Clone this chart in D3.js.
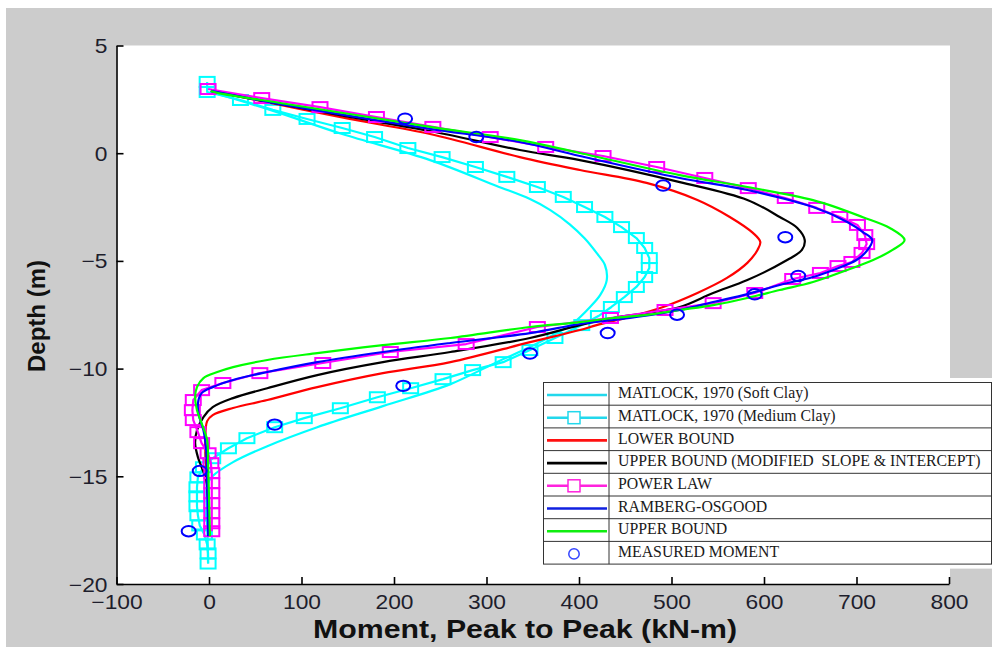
<!DOCTYPE html>
<html>
<head>
<meta charset="utf-8">
<script src="https://cdn.jsdelivr.net/npm/d3@7"></script>
<style>
  html, body { margin: 0; padding: 0; background: #ffffff; }
  svg { display: block; }
  .tick-label { font-family: "Liberation Sans", Arial, sans-serif; font-size: 20px; fill: #1e1e2c; }
  .axis-title { font-family: "Liberation Sans", Arial, sans-serif; font-weight: bold; fill: #111; }
  .legend-text { font-family: "Liberation Serif", "Times New Roman", serif; font-size: 15.8px; fill: #1a1a1a; white-space: pre; }
</style>
</head>
<body>
<svg id="chart" width="992" height="647"></svg>
<script>
// ---- Axis ticks ----
const xTicks = [-100, 0, 100, 200, 300, 400, 500, 600, 700, 800];
const yTicks = [5, 0, -5, -10, -15, -20];

// ---- MATLOCK, 1970 (Soft Clay) ----
const softClayDepth  = [2.84, 2.01, 0.89, -0.32, -1.52, -2.13, -2.64, -3.30, -3.95, -4.63, -5.19, -5.89, -6.58, -7.14, -7.88, -8.35, -9.00, -9.70, -10.72, -11.74, -12.72, -13.60, -14.34, -14.99, -15.41, -16.58, -19.05];
const softClayMoment = [2, 66, 144, 239, 311, 347, 369, 390, 406, 419, 428, 430, 423, 412, 394, 376, 347, 311, 261, 188, 117, 63, 26, 4, -2, -2, -1];

// ---- MATLOCK, 1970 (Medium Clay) ----
const mediumClayDepth  = [3.31, 2.84, 2.47, 2.01, 1.59, 1.17, 0.75, 0.24, -0.18, -0.64, -1.10, -1.57, -2.03, -2.50, -2.96, -3.43, -3.94, -4.40, -4.87, -5.33, -5.75, -6.21, -6.68, -7.14, -7.56, -7.98, -8.58, -9.14, -9.70, -10.07, -10.49, -10.91, -11.33, -11.84, -12.30, -12.72, -13.23, -13.70, -14.16, -14.58, -15.05, -15.51, -15.93, -16.39, -16.81, -17.28, -17.70, -18.16, -18.58, -19.05];
const mediumClayMoment = [-2, -2, 34, 69, 106, 144, 179, 215, 252, 288, 322, 355, 383, 406, 428, 446, 462, 471, 476, 476, 471, 462, 449, 435, 421, 403, 374, 347, 318, 285, 253, 218, 182, 142, 103, 71, 41, 21, 4, -6, -12, -13, -13, -13, -12, -10, -5, -2, -1, -1];

// ---- LOWER BOUND ----
const lowerDepth  = [2.89, 2.24, 1.59, 0.89, -0.18, -0.78, -1.38, -2.17, -2.96, -3.70, -4.12, -4.49, -5.09, -5.79, -6.49, -7.14, -7.60, -7.98, -8.21, -8.77, -9.70, -10.21, -10.86, -11.46, -11.83, -12.16, -12.44, -13.32, -14.71, -16.11, -17.78];
const lowerMoment = [2, 77, 152, 239, 336, 401, 473, 528, 563, 588, 596, 593, 582, 560, 528, 491, 455, 419, 401, 347, 261, 188, 117, 63, 26, 4, -2, -4, -3, -1, 0];

// ---- UPPER BOUND (MODIFIED SLOPE & INTERCEPT) ----
const modifiedDepth  = [2.89, 2.28, 1.68, 1.03, 0.15, -0.32, -1.34, -2.17, -2.96, -3.47, -4.03, -4.49, -4.96, -5.89, -6.49, -7.14, -7.42, -7.65, -7.98, -8.58, -9.23, -9.70, -10.30, -10.91, -11.37, -11.79, -12.25, -12.86, -13.46, -14.11, -14.57, -15.18, -16.11, -17.78];
const modifiedMoment = [2, 77, 152, 239, 336, 401, 509, 582, 617, 636, 644, 641, 625, 582, 545, 509, 473, 437, 401, 347, 261, 188, 117, 63, 26, 4, -6, -13, -15, -12, -8, -3, -1, 0];

// ---- POWER LAW ----
const powerLawDepth  = [2.98, 2.56, 2.14, 1.68, 1.22, 0.75, 0.29, -0.13, -0.64, -1.15, -1.62, -2.08, -2.54, -2.96, -3.33, -3.80, -4.22, -4.63, -5.05, -5.24, -5.56, -5.84, -6.49, -6.96, -7.28, -7.65, -8.07, -8.86, -9.23, -9.74, -10.21, -10.67, -11.00, -11.46, -11.93, -12.39, -12.95, -13.46, -13.93, -14.39, -14.85, -15.32, -15.78, -16.25, -16.71, -17.18, -17.55];
const powerLawMoment = [-1, 57, 120, 181, 242, 304, 364, 426, 484, 536, 583, 623, 657, 682, 701, 709, 711, 706, 695, 680, 661, 631, 590, 545, 493, 434, 355, 278, 196, 123, 55, 15, -8, -17, -18, -17, -12, -8, -1, 2, 3, 3, 3, 3, 3, 3, 3];

// ---- RAMBERG-OSGOOD ----
const rambergDepth  = [2.89, 2.28, 1.73, 1.13, 0.52, -0.13, -1.15, -1.71, -2.50, -3.19, -3.66, -4.03, -4.49, -4.96, -5.42, -5.75, -6.12, -6.54, -6.91, -7.28, -7.65, -7.93, -8.35, -8.81, -9.23, -9.70, -10.16, -10.53, -10.86, -11.14, -11.61, -12.16, -12.86, -13.79, -15.18, -17.78];
const rambergMoment = [2, 77, 152, 239, 336, 401, 509, 582, 653, 690, 707, 717, 712, 700, 675, 653, 617, 582, 545, 509, 455, 401, 347, 261, 188, 117, 63, 26, 4, -8, -12, -11, -6, -3, -2, -1];

// ---- UPPER BOUND ----
const upperDepth  = [2.89, 2.80, 2.33, 1.82, 1.22, 0.61, 0.01, -1.02, -1.57, -2.18, -2.97, -3.47, -4.03, -4.49, -4.96, -5.42, -5.98, -6.35, -6.72, -7.05, -7.28, -7.51, -7.65, -7.84, -8.07, -8.58, -8.91, -9.28, -9.60, -9.93, -10.16, -10.44, -10.86, -11.32, -11.93, -12.53, -13.32, -14.39, -15.97, -17.78];
const upperMoment = [2, 9, 77, 152, 239, 336, 401, 509, 582, 653, 707, 736, 752, 739, 718, 690, 653, 617, 582, 545, 509, 473, 437, 401, 347, 261, 188, 117, 63, 26, 9, -6, -13, -15, -13, -8, -2, -1, 0, 1];

// ---- MEASURED MOMENT ----
const measuredDepth  = [1.6, 0.75, -1.5, -3.9, -5.7, -6.55, -7.5, -8.35, -9.3, -10.8, -12.6, -14.75, -17.55];
const measuredMoment = [212, 289, 491, 623, 637, 590, 506, 431, 347, 210, 71, -10, -22];

// ---- Legend entries ----
const legendLabels = [
  "MATLOCK, 1970 (Soft Clay)",
  "MATLOCK, 1970 (Medium Clay)",
  "LOWER BOUND",
  "UPPER BOUND (MODIFIED  SLOPE & INTERCEPT)",
  "POWER LAW",
  "RAMBERG-OSGOOD",
  "UPPER BOUND",
  "MEASURED MOMENT"
];

const zip = (m, d) => m.map((v, i) => ({ m: v, d: d[i] }));

const series = [
  { key: "soft",     color: "#00ffff", pts: zip(softClayMoment, softClayDepth),     marker: null,     smooth: true },
  { key: "medium",   color: "#00ffff", pts: zip(mediumClayMoment, mediumClayDepth), marker: "square", smooth: false },
  { key: "lower",    color: "#ff0000", pts: zip(lowerMoment, lowerDepth),           marker: null,     smooth: true },
  { key: "modified", color: "#000000", pts: zip(modifiedMoment, modifiedDepth),     marker: null,     smooth: true },
  { key: "power",    color: "#ff00ff", pts: zip(powerLawMoment, powerLawDepth),     marker: "square", smooth: false },
  { key: "ramberg",  color: "#0000ff", pts: zip(rambergMoment, rambergDepth),       marker: null,     smooth: true },
  { key: "upper",    color: "#00ff00", pts: zip(upperMoment, upperDepth),           marker: null,     smooth: true }
];
const measured = zip(measuredMoment, measuredDepth);

const svg = d3.select("#chart");

// figure background
svg.append("rect").attr("x", 6).attr("y", 8).attr("width", 986).attr("height", 639).attr("fill", "#cccccc");

const x = d3.scaleLinear().domain([-100, 800]).range([116.5, 949]);
const y = d3.scaleLinear().domain([-20, 5]).range([584, 45.5]);

// plot area
svg.append("rect")
  .attr("x", x(-100)).attr("y", y(5))
  .attr("width", x(800) - x(-100) + 1).attr("height", y(-20) - y(5))
  .attr("fill", "#ffffff");

// curves
const plot = svg.append("g");
series.forEach(s => {
  const line = d3.line()
    .x(p => x(p.m)).y(p => y(p.d))
    .curve(s.smooth ? d3.curveCatmullRom.alpha(0.5) : d3.curveLinear);
  plot.append("path")
    .datum(s.pts)
    .attr("d", line)
    .attr("fill", "none")
    .attr("stroke", s.color)
    .attr("stroke-width", 2.2)
    .attr("stroke-linejoin", "round");
  if (s.marker === "square") {
    plot.append("g").selectAll("rect")
      .data(s.pts).join("rect")
      .attr("x", p => x(p.m) - 7.5).attr("y", p => y(p.d) - 5)
      .attr("width", 15).attr("height", 10)
      .attr("fill", "none").attr("stroke", s.color).attr("stroke-width", 2);
  }
});

// measured points
plot.append("g").selectAll("ellipse")
  .data(measured).join("ellipse")
  .attr("cx", p => x(p.m)).attr("cy", p => y(p.d))
  .attr("rx", 7).attr("ry", 5.2)
  .attr("fill", "none").attr("stroke", "#0000ff").attr("stroke-width", 2);

// axes
const xAxis = svg.append("g")
  .attr("transform", `translate(0,${y(-20)})`)
  .call(d3.axisBottom(x).tickValues(xTicks).tickFormat(d3.format("d")).tickSizeInner(-7).tickSizeOuter(0));
const yAxis = svg.append("g")
  .attr("transform", `translate(${x(-100)},0)`)
  .call(d3.axisLeft(y).tickValues(yTicks).tickFormat(d3.format("d")).tickSizeInner(-7).tickSizeOuter(0));

[xAxis, yAxis].forEach(g => {
  g.select(".domain").attr("stroke", "#000").attr("stroke-width", 1.6);
  g.selectAll(".tick line").attr("stroke", "#000").attr("stroke-width", 1.6);
  g.selectAll(".tick text").attr("class", "tick-label").attr("font-size", null).attr("font-family", null).attr("fill", null);
});
xAxis.selectAll(".tick text")
  .attr("y", 0).attr("dy", 0)
  .attr("transform", "translate(0,25) scale(1.14,1)")
  .attr("text-anchor", "middle");
yAxis.selectAll(".tick text")
  .attr("x", 0).attr("dy", "0.35em")
  .attr("transform", "translate(-9,0) scale(1.14,1)")
  .attr("text-anchor", "end");
xAxis.attr("font-size", null).attr("font-family", null);
yAxis.attr("font-size", null).attr("font-family", null);

// axis titles
svg.append("text").attr("class", "axis-title")
  .attr("x", 525).attr("y", 638)
  .attr("text-anchor", "middle")
  .attr("font-size", 25)
  .attr("textLength", 424).attr("lengthAdjust", "spacingAndGlyphs")
  .text("Moment, Peak to Peak (kN-m)");

svg.append("text").attr("class", "axis-title")
  .attr("transform", "translate(45,316) rotate(-90)")
  .attr("text-anchor", "middle")
  .attr("font-size", 24)
  .text("Depth (m)");

// legend
const lg = { left: 543.5, right: 991.5, top: 382.5, rowH: 22.7, divider: 609 };
const lgBottom = lg.top + lg.rowH * legendLabels.length;
svg.append("rect").attr("x", lg.left).attr("y", lg.top - 4.5)
  .attr("width", 992 - lg.left).attr("height", lgBottom - lg.top + 9).attr("fill", "#ffffff");
const legend = svg.append("g");
legend.append("rect")
  .attr("x", lg.left).attr("y", lg.top)
  .attr("width", lg.right - lg.left).attr("height", lgBottom - lg.top)
  .attr("fill", "none").attr("stroke", "#333").attr("stroke-width", 1);
legend.append("line")
  .attr("x1", lg.divider).attr("x2", lg.divider).attr("y1", lg.top).attr("y2", lgBottom)
  .attr("stroke", "#333").attr("stroke-width", 1);

const legendStyles = [
  { color: "#22d8ec", line: true,  marker: null },
  { color: "#22d8ec", line: true,  marker: "square" },
  { color: "#ff1010", line: true,  marker: null },
  { color: "#000000", line: true,  marker: null },
  { color: "#ff22dd", line: true,  marker: "square" },
  { color: "#1020e0", line: true,  marker: null },
  { color: "#10ee10", line: true,  marker: null },
  { color: "#3344ff", line: false, marker: "circle" }
];

legendLabels.forEach((label, i) => {
  const top = lg.top + i * lg.rowH;
  if (i > 0) {
    legend.append("line")
      .attr("x1", lg.left).attr("x2", lg.right).attr("y1", top).attr("y2", top)
      .attr("stroke", "#333").attr("stroke-width", 1);
  }
  const st = legendStyles[i];
  const cy = top + 12.5;
  if (st.line) {
    legend.append("line")
      .attr("x1", 547).attr("x2", 607).attr("y1", cy).attr("y2", cy)
      .attr("stroke", st.color).attr("stroke-width", 2.6);
  }
  if (st.marker === "square") {
    legend.append("rect")
      .attr("x", 568).attr("y", cy - 6).attr("width", 12).attr("height", 12)
      .attr("fill", "#ffffff").attr("stroke", st.color).attr("stroke-width", 1.5);
  } else if (st.marker === "circle") {
    legend.append("circle")
      .attr("cx", 574).attr("cy", cy).attr("r", 5.2)
      .attr("fill", "none").attr("stroke", st.color).attr("stroke-width", 1.5);
  }
  legend.append("text").attr("class", "legend-text")
    .attr("x", 618).attr("y", top + 15.7)
    .text(label);
});
</script>
</body>
</html>
